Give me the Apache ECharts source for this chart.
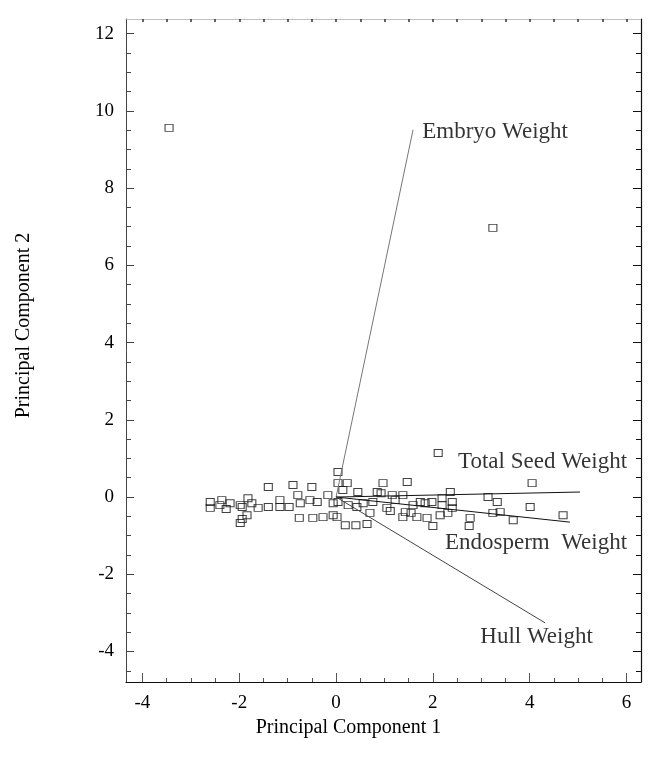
<!DOCTYPE html>
<html><head><meta charset="utf-8">
<script src="https://cdn.jsdelivr.net/npm/echarts@6/dist/echarts.min.js"></script>
<style>html,body{margin:0;padding:0;background:#fff}#chart{width:652px;height:767px}</style>
</head><body><div id="chart"></div>
<script>
// ---- data ----
const xTickLabels = [-4, -2, 0, 2, 4, 6];
const yTickLabels = [-4, -2, 0, 2, 4, 6, 8, 10, 12];
const xMinorTicks = [-4, -3.5, -3, -2.5, -2, -1.5, -1, -0.5, 0, 0.5, 1, 1.5, 2, 2.5, 3, 3.5, 4, 4.5, 5, 5.5, 6];
const yMinorTicks = [-4.5, -4, -3.5, -3, -2.5, -2, -1.5, -1, -0.5, 0, 0.5, 1, 1.5, 2, 2.5, 3, 3.5, 4, 4.5, 5, 5.5, 6, 6.5, 7, 7.5, 8, 8.5, 9, 9.5, 10, 10.5, 11, 11.5, 12];

const pc1Scores = [-2.60, -2.60, -2.40, -2.36, -2.27, -2.19, -1.98, -1.94, -1.82, -1.94, -1.84, -1.98, -1.74,
  -1.61, -1.40, -1.40, -1.16, -1.16, -0.97, -0.89, -0.79, -0.74, -0.76, -0.54, -0.50, -0.39, -0.48, -0.27,
  -0.17, -0.06, -0.06, 0.04, 0.04, 0.04, 0.02, 0.14, 0.23, 0.25, 0.19, 0.41, 0.64, 0.43, 0.45, 0.56,
  0.70, 0.76, 0.85, 0.93, 0.97, 1.05, 1.12, 1.16, 1.22, 1.38, 1.38, 1.47, 1.43, 1.55, 1.59, 1.67, 1.74,
  1.84, 1.88, 1.98, 2.00, 2.11, 2.15, 2.19, 2.19, 2.31, 2.36, 2.40, 2.40, 2.77, 2.75, 3.14, 3.33, 3.24,
  3.39, 3.66, 4.05, 4.01, 4.69, -3.45, 3.24];
const pc2Scores = [-0.13, -0.28, -0.21, -0.08, -0.31, -0.16, -0.21, -0.26, -0.03, -0.57, -0.47, -0.67, -0.16,
  -0.28, -0.26, 0.26, -0.08, -0.26, -0.26, 0.31, 0.05, -0.16, -0.54, -0.08, 0.26, -0.13, -0.54, -0.52,
  0.05, -0.16, -0.47, 0.65, 0.36, -0.13, -0.52, 0.18, 0.36, -0.21, -0.73, -0.73, -0.70, -0.26, 0.13, -0.16,
  -0.41, -0.13, 0.13, 0.10, 0.36, -0.28, -0.36, 0.05, -0.08, 0.05, -0.52, 0.39, -0.39, -0.41, -0.21, -0.52, -0.13,
  -0.16, -0.54, -0.13, -0.75, 1.14, -0.47, -0.03, -0.21, -0.41, 0.13, -0.13, -0.28, -0.54, -0.75, 0.00, -0.13, -0.41,
  -0.39, -0.60, 0.36, -0.26, -0.47, 9.56, 6.97];

const loadingNames = ['Embryo Weight', 'Total Seed Weight', 'Endosperm  Weight', 'Hull Weight'];
const loadingPC1 = [1.59, 5.04, 4.83, 4.32];
const loadingPC2 = [9.51, 0.13, -0.65, -3.26];
const labelPC1 = [1.78, 2.52, 2.25, 2.98];
const labelPC2 = [9.46, 0.91, -1.19, -3.63];

// ---- chart ----
const FONT = '"Liberation Serif", "DejaVu Serif", serif';
const INK = '#000';
const chart = echarts.init(document.getElementById('chart'), null, {renderer: 'canvas'});

const vectorColors = ['#777', '#111', '#111', '#444'];
const vectorSeries = loadingNames.map((n, i) => ({
  type: 'line', name: n, xAxisIndex: 0, yAxisIndex: 0,
  data: [[0, 0], [loadingPC1[i], loadingPC2[i]]],
  symbol: 'none', silent: true,
  lineStyle: {color: vectorColors[i], width: 1}
}));

const labelData = loadingNames.map((n, i) => ({name: n, value: [labelPC1[i], labelPC2[i]]}));

const xr = {min: -4.34, max: 6.30};
const yr = {min: -4.79, max: 12.38};

chart.setOption({
  animation: false,
  backgroundColor: '#fff',
  grid: {left: 126, right: 11, top: 19, bottom: 85},
  xAxis: [
    {type: 'value', position: 'bottom', min: xr.min, max: xr.max, splitLine: {show: false},
      axisLine: {show: true, onZero: false, lineStyle: {color: '#111', width: 1.2}},
      axisTick: {show: true, inside: true, length: 9, customValues: xTickLabels, lineStyle: {color: '#555'}},
      axisLabel: {customValues: xTickLabels, fontFamily: FONT, fontSize: 19, color: INK, margin: 12},
      name: 'Principal Component 1', nameLocation: 'middle', nameGap: 34,
      nameTextStyle: {fontFamily: FONT, fontSize: 20, color: INK, padding: [0, 70, 0, 0]}},
    {type: 'value', position: 'bottom', min: xr.min, max: xr.max, splitLine: {show: false},
      axisLine: {show: false, onZero: false},
      axisTick: {show: true, inside: true, length: 4, customValues: xMinorTicks, lineStyle: {color: '#555'}},
      axisLabel: {show: false}},
    {type: 'value', position: 'top', min: xr.min, max: xr.max, splitLine: {show: false},
      axisLine: {show: true, onZero: false, lineStyle: {color: '#aaa', width: 0.8, type: 'dotted'}},
      axisTick: {show: true, inside: true, length: 3, customValues: xMinorTicks, lineStyle: {color: '#333', width: 1.5}},
      axisLabel: {show: false}}
  ],
  yAxis: [
    {type: 'value', position: 'left', min: yr.min, max: yr.max, splitLine: {show: false},
      axisLine: {show: true, onZero: false, lineStyle: {color: '#444', width: 1}},
      axisTick: {show: true, inside: true, length: 8, customValues: yTickLabels, lineStyle: {color: '#444'}},
      axisLabel: {customValues: yTickLabels, fontFamily: FONT, fontSize: 19, color: INK, margin: 12},
      name: 'Principal Component 2', nameLocation: 'middle', nameGap: 92, nameRotate: 90,
      nameTextStyle: {fontFamily: FONT, fontSize: 20, color: INK, padding: [0, 0, 0, 50]}},
    {type: 'value', position: 'left', min: yr.min, max: yr.max, splitLine: {show: false},
      axisLine: {show: false, onZero: false},
      axisTick: {show: true, inside: true, length: 5, customValues: yMinorTicks, lineStyle: {color: '#444'}},
      axisLabel: {show: false}},
    {type: 'value', position: 'right', min: yr.min, max: yr.max, splitLine: {show: false},
      axisLine: {show: true, onZero: false, lineStyle: {color: '#111', width: 1.2}},
      axisTick: {show: true, inside: true, length: 8, customValues: yTickLabels, lineStyle: {color: '#111'}},
      axisLabel: {show: false}},
    {type: 'value', position: 'right', min: yr.min, max: yr.max, splitLine: {show: false},
      axisLine: {show: false, onZero: false},
      axisTick: {show: true, inside: true, length: 5, customValues: yMinorTicks, lineStyle: {color: '#111'}},
      axisLabel: {show: false}}
  ],
  series: [
    ...vectorSeries,
    {type: 'scatter', name: 'scores', xAxisIndex: 0, yAxisIndex: 0,
      data: pc1Scores.map((x, i) => [x, pc2Scores[i]]),
      symbol: 'rect', symbolSize: [8, 7], silent: true,
      itemStyle: {color: 'rgba(255,255,255,0)', borderColor: '#111', borderWidth: 1}},
    {type: 'scatter', name: 'labels', xAxisIndex: 0, yAxisIndex: 0,
      data: labelData, symbolSize: 0, silent: true,
      label: {show: true, position: 'right', distance: 0, formatter: '{b}',
        fontFamily: FONT, fontSize: 23, color: INK}}
  ]
});
</script></body></html>
